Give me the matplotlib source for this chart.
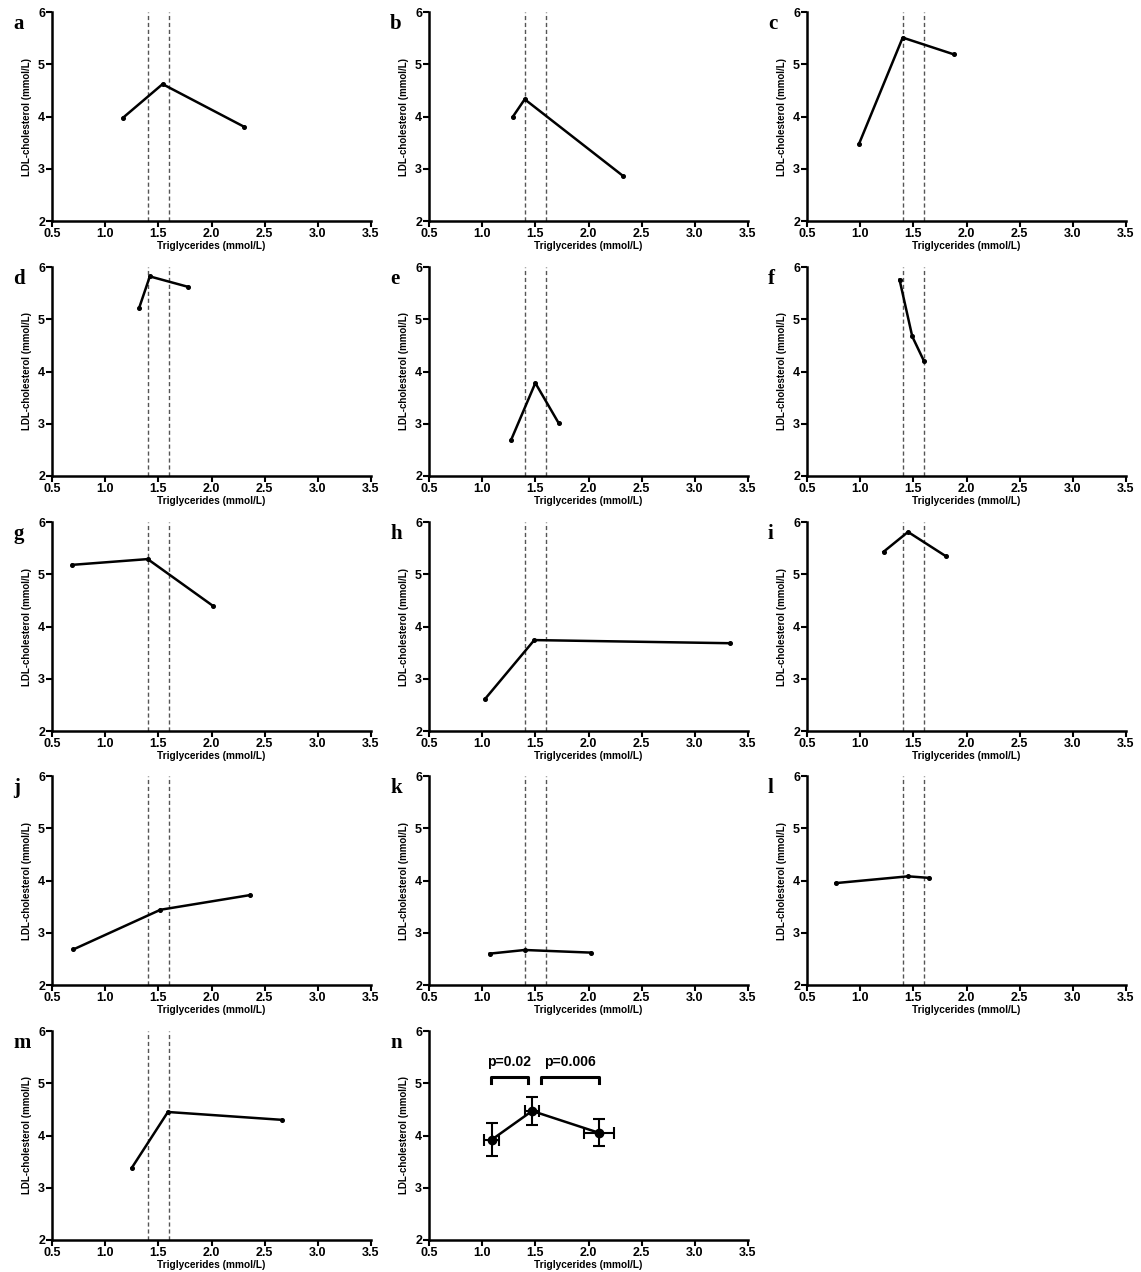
import matplotlib
matplotlib.use("Agg")
import matplotlib.pyplot as plt

plt.rcParams['font.family'] = ['Liberation Sans', 'DejaVu Sans']
plt.rcParams['font.weight'] = 'bold'

# panel letters and data (triglycerides, LDL-cholesterol)
letters = ['a', 'b', 'c', 'd', 'e', 'f', 'g', 'h', 'i', 'j', 'k', 'l', 'm']
tg = [
    [1.17, 1.54, 2.31],
    [1.29, 1.40, 2.32],
    [0.99, 1.40, 1.88],
    [1.32, 1.42, 1.78],
    [1.27, 1.50, 1.72],
    [1.37, 1.49, 1.60],
    [0.69, 1.40, 2.01],
    [1.03, 1.49, 3.33],
    [1.22, 1.45, 1.81],
    [0.70, 1.52, 2.36],
    [1.07, 1.40, 2.02],
    [0.77, 1.45, 1.65],
    [1.25, 1.59, 2.66],
]
ldl = [
    [3.98, 4.62, 3.80],
    [4.00, 4.33, 2.87],
    [3.48, 5.51, 5.19],
    [5.22, 5.82, 5.62],
    [2.68, 3.78, 3.01],
    [5.76, 4.67, 4.20],
    [5.18, 5.29, 4.40],
    [2.62, 3.74, 3.68],
    [5.43, 5.81, 5.34],
    [2.68, 3.44, 3.72],
    [2.60, 2.67, 2.62],
    [3.95, 4.08, 4.05],
    [3.38, 4.45, 4.30],
]
cutoffs = [1.4, 1.6]

# pooled panel n: means with error bars
n_tg = [1.09, 1.47, 2.10]
n_ldl = [3.92, 4.47, 4.05]
n_tg_err = [0.07, 0.065, 0.14]
n_ldl_err = [0.32, 0.26, 0.26]
p_labels = ['p=0.02', 'p=0.006']
p_spans = [(1.08, 1.43), (1.55, 2.10)]

xticks = [0.5, 1.0, 1.5, 2.0, 2.5, 3.0, 3.5]
yticks = [2, 3, 4, 5, 6]

W, H = 1141, 1272
fig = plt.figure(figsize=(W / 100, H / 100), dpi=100)

col_left = [52, 429, 807]
row_top = [12, 267, 522, 776, 1031]
aw, ah = 319, 209


def make_axes(r, c, letter):
    left, top = col_left[c], row_top[r]
    ax = fig.add_axes([left / W, 1 - (top + ah) / H, aw / W, ah / H])
    ax.set_xlim(0.5, 3.5)
    ax.set_ylim(2, 6)
    ax.set_xticks(xticks)
    ax.set_xticklabels([f'{v:.1f}' for v in xticks])
    ax.set_yticks(yticks)
    for s in ['top', 'right']:
        ax.spines[s].set_visible(False)
    for s in ['left', 'bottom']:
        ax.spines[s].set_linewidth(1.8)
    ax.tick_params(width=1.5, length=4, labelsize=9, pad=1)
    for lab in ax.get_xticklabels() + ax.get_yticklabels():
        lab.set_fontweight('bold')
    ax.set_xlabel('Triglycerides (mmol/L)', fontsize=7.3, fontweight='bold', labelpad=0.5)
    ax.set_ylabel('LDL-cholesterol (mmol/L)', fontsize=7, fontweight='bold', labelpad=4)
    fig.text((left - 39) / W, 1 - (top + 12) / H, letter, fontsize=15, fontweight='bold',
             family='Liberation Serif', ha='left', va='center')
    return ax


for i, letter in enumerate(letters):
    r, c = divmod(i, 3)
    ax = make_axes(r, c, letter)
    for xc in cutoffs:
        ax.axvline(xc, color='#555555', lw=1.0, ls=(0, (3, 2)))
    ax.plot(tg[i], ldl[i], color='black', lw=1.8, marker='o', ms=2.6)

ax = make_axes(4, 1, 'n')
ax.errorbar(n_tg, n_ldl, xerr=n_tg_err, yerr=n_ldl_err, color='black', lw=1.8,
            marker='o', ms=6, capsize=4, elinewidth=1.5, capthick=1.5)
for (x0, x1), lab in zip(p_spans, p_labels):
    ax.plot([x0, x0, x1, x1], [5.0, 5.12, 5.12, 5.0], color='black', lw=2.2)
    ax.text((x0 + x1) / 2, 5.28, lab, ha='center', va='bottom', fontsize=10, fontweight='bold')

fig.savefig('out.png', dpi=100)
